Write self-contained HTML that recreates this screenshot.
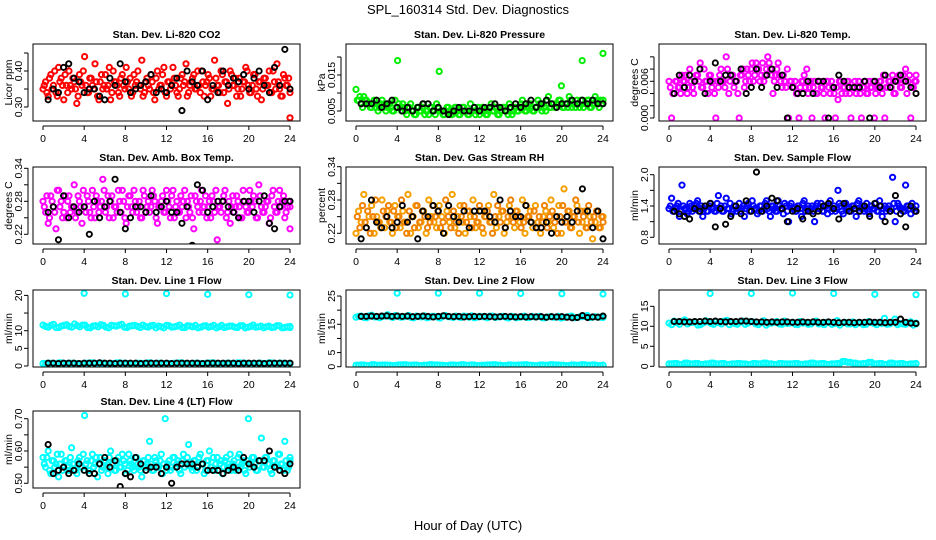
<!DOCTYPE html>
<html><head><meta charset="utf-8"><style>
body{margin:0;background:#fff}
svg{display:block;font-family:"Liberation Sans",sans-serif}
</style></head><body>
<svg id="c" width="936" height="540" viewBox="0 0 936 540">
<text x="468" y="14" font-size="13" text-anchor="middle">SPL_160314  Std. Dev. Diagnostics</text>
<text x="468" y="530" font-size="13" text-anchor="middle">Hour of Day (UTC)</text>
</svg>
<script>
const xTicks=[0,4,8,12,16,20,24];
const spikeHours=[4,8,12,16,20,24];
const co2Color=[.35,.37,.33,.39,.36,.34,.41,.38,.32,.36,.40,.35,.37,.31,.39,.36,.44,.34,.38,.36,.42,.33,.37,.35,.39,.36,.32,.40,.37,.34,.38,.36,.41,.35,.33,.39,.37,.36,.43,.34,.38,.35,.37,.32,.40,.36,.39,.34,.37,.35,.41,.36,.33,.38,.36,.42,.34,.37,.39,.35,.36,.40,.33,.37,.38,.35,.43,.36,.34,.39,.37,.31,.40,.36,.38,.35,.33,.37,.41,.36,.34,.39,.35,.37,.32,.38,.36,.40,.34,.37,.42,.35,.33,.38,.36,.27];
const co2ColorB=[.36,.34,.38,.35,.40,.33,.37,.36,.39,.34,.36,.38,.35,.33,.37,.40,.36,.34,.38,.35,.37,.32,.39,.36,.35,.41,.34,.37,.36,.33,.39,.35,.37,.38,.34,.36,.40,.35,.33,.37,.36,.39,.34,.38,.35,.36,.41,.33,.37,.36,.38,.34,.35,.39,.37,.33,.36,.38,.35,.40,.34,.37,.36,.39,.33,.35,.38,.36,.40,.34,.37,.35,.39,.36,.33,.38,.35,.37,.40,.34,.36,.39,.33,.37,.35,.38,.36,.34,.40,.35,.37,.33,.39,.36,.38,.34];
const co2Black=[.32,.35,.34,.41,.42,.38,.37,.34,.35,.35,.33,.32,.38,.36,.42,.37,.34,.35,.36,.37,.39,.34,.35,.34,.36,.38,.29,.40,.37,.36,.40,.32,.36,.34,.40,.36,.38,.37,.39,.35,.38,.40,.36,.34,.41,.36,.46,.35];
const presColor=[.011,.008,.007,.009,.008,.007,.006,.008,.007,.006,.008,.007,.006,.007,.005,.008,.019,.006,.007,.005,.006,.007,.005,.004,.006,.005,.007,.005,.004,.006,.005,.007,.016,.005,.004,.006,.005,.004,.006,.005,.004,.006,.005,.004,.007,.005,.004,.006,.005,.006,.004,.005,.007,.005,.006,.004,.005,.006,.005,.007,.004,.006,.005,.006,.008,.005,.006,.007,.005,.006,.008,.006,.007,.005,.009,.006,.007,.006,.008,.012,.006,.007,.009,.006,.007,.008,.006,.019,.007,.008,.006,.007,.009,.007,.008,.021];
const presColorB=[.008,.009,.006,.008,.007,.006,.007,.006,.005,.007,.006,.005,.007,.006,.005,.006,.007,.005,.006,.004,.006,.005,.004,.006,.005,.006,.004,.005,.006,.005,.004,.006,.005,.004,.005,.006,.004,.005,.006,.004,.005,.006,.005,.004,.005,.006,.005,.004,.006,.005,.004,.006,.005,.006,.004,.005,.006,.005,.004,.006,.005,.006,.005,.007,.006,.005,.007,.006,.005,.006,.007,.005,.006,.008,.006,.007,.006,.007,.008,.006,.007,.006,.008,.007,.006,.007,.008,.006,.007,.008,.006,.007,.008,.006,.007,.008];
const presBlack=[.007,.007,.007,.008,.006,.007,.008,.006,.005,.006,.005,.006,.007,.007,.005,.006,.005,.004,.005,.006,.005,.005,.006,.005,.006,.006,.007,.006,.005,.006,.007,.006,.007,.008,.006,.007,.008,.007,.006,.007,.007,.008,.007,.008,.007,.008,.007,.007];
const tempColor=[.006,0,.004,.006,.005,.007,.006,.004,.008,.005,.006,.007,.009,.005,.006,.004,.007,.006,0,.005,.008,.006,.010,.004,.007,.005,.006,0,.007,.005,.008,.006,.009,.007,.008,.006,.009,.007,.010,.008,.004,.007,.009,.006,.007,.005,0,.006,.005,.004,0,.006,.007,.008,.005,0,.006,.004,.006,.005,0,.006,.004,.005,0,.003,.006,.005,.004,.006,0,.005,.004,.006,0,.005,.004,.006,.005,0,.005,.006,.004,0,.005,.006,.007,.004,.006,.005,.007,.008,.006,0,.005,.006];
const tempColorB=[.005,.004,.006,.005,.004,.006,.007,.005,.006,.004,.007,.006,.005,.008,.006,.007,.005,.004,.006,.007,.006,.005,.008,.006,.007,.006,.004,.007,.008,.006,.007,.008,.006,.009,.008,.007,.006,.008,.009,.007,.006,.008,.007,.005,.006,.008,.006,.005,.006,.004,.005,.006,.005,.004,.006,.005,.004,.006,.005,.004,.006,.005,.006,.004,.005,.006,.004,.005,.006,.004,.005,.006,.005,.004,.005,.006,.004,.005,.006,.004,.005,.006,.007,.005,.006,.005,.004,.006,.007,.005,.006,.004,.007,.005,.006,.007];
const tempBlack=[.004,.007,.005,.007,.006,.008,.004,.006,.009,.006,.007,.007,.006,.008,.004,.005,.008,.005,.007,.008,.005,.007,0,.005,.004,.004,.006,.004,.006,.006,0,.005,.007,.006,.005,.005,.005,.006,0,.006,.005,.007,.005,.006,.007,.006,.005,.004];
const ambColor=[.28,.26,.24,.29,.27,.23,.30,.28,.26,.25,.29,.27,.31,.26,.28,.24,.27,.29,.26,.30,.25,.28,.27,.32,.26,.29,.28,.25,.27,.30,.26,.28,.24,.29,.27,.30,.26,.28,.25,.29,.27,.26,.30,.28,.24,.27,.29,.26,.28,.25,.30,.27,.26,.29,.28,.25,.27,.29,.23,.28,.26,.30,.27,.25,.28,.29,.26,.21,.27,.28,.30,.26,.24,.29,.27,.28,.25,.30,.27,.26,.28,.29,.25,.31,.27,.26,.28,.24,.29,.27,.26,.30,.28,.25,.27,.23];
const ambColorB=[.27,.29,.25,.28,.26,.30,.27,.25,.29,.28,.26,.27,.25,.29,.27,.30,.26,.28,.25,.27,.29,.26,.28,.30,.27,.25,.29,.27,.26,.28,.30,.25,.27,.29,.26,.28,.27,.25,.30,.26,.28,.27,.29,.25,.27,.28,.26,.30,.27,.29,.25,.28,.26,.27,.30,.28,.26,.25,.29,.27,.28,.26,.29,.27,.25,.28,.30,.27,.26,.29,.25,.28,.27,.26,.29,.27,.25,.28,.26,.30,.27,.28,.25,.29,.26,.27,.28,.25,.30,.26,.28,.27,.29,.26,.28,.27];
const ambBlack=[.26,.27,.21,.29,.25,.27,.26,.27,.22,.28,.25,.27,.28,.32,.26,.23,.25,.27,.27,.26,.29,.26,.27,.28,.26,.26,.24,.27,.20,.31,.30,.26,.27,.28,.28,.27,.26,.25,.28,.28,.26,.28,.29,.24,.23,.27,.28,.28];
const rhColor=[.22,.26,.24,.29,.23,.25,.27,.22,.25,.24,.28,.23,.26,.24,.22,.27,.25,.23,.26,.24,.29,.22,.25,.27,.23,.24,.26,.22,.28,.25,.24,.23,.27,.25,.22,.26,.24,.29,.23,.25,.27,.24,.22,.26,.25,.28,.23,.24,.26,.22,.25,.27,.24,.29,.23,.25,.26,.22,.24,.27,.25,.23,.26,.24,.28,.22,.25,.26,.23,.27,.24,.22,.25,.26,.24,.28,.23,.25,.27,.22,.30,.24,.26,.23,.25,.27,.22,.24,.26,.23,.25,.21,.24,.26,.23,.25];
const rhColorB=[.25,.23,.27,.24,.26,.22,.25,.28,.24,.23,.26,.25,.27,.24,.26,.23,.25,.28,.24,.22,.26,.25,.23,.27,.24,.26,.25,.23,.24,.27,.25,.26,.23,.24,.28,.25,.23,.26,.24,.22,.25,.27,.24,.26,.23,.25,.24,.27,.23,.25,.26,.24,.22,.25,.27,.24,.26,.23,.25,.28,.24,.26,.25,.23,.24,.27,.25,.24,.26,.23,.25,.24,.27,.23,.25,.26,.24,.22,.25,.27,.24,.26,.23,.25,.28,.24,.26,.25,.23,.27,.24,.25,.26,.23,.25,.24];
const rhBlack=[.21,.23,.28,.24,.23,.25,.23,.24,.27,.24,.25,.21,.26,.25,.27,.26,.22,.27,.25,.24,.26,.23,.26,.26,.26,.25,.24,.28,.23,.26,.25,.25,.27,.24,.23,.23,.24,.22,.25,.24,.25,.24,.26,.30,.26,.23,.26,.21];
const sfColor=[1.35,1.55,1.3,1.4,1.2,1.8,1.35,1.25,1.45,1.3,1.4,1.5,1.35,1.2,1.4,1.3,1.45,1.35,1.3,1.6,1.4,1.3,1.55,1.35,1.25,1.4,1.3,1.45,1.35,1.2,1.4,1.3,1.5,1.35,1.25,1.4,1.3,1.45,1.35,1.2,1.4,1.3,1.5,1.35,1.25,1.4,1.1,1.45,1.35,1.3,1.4,1.2,1.5,1.35,1.3,1.4,1.1,1.45,1.35,1.3,1.4,1.25,1.5,1.35,1.3,1.7,1.4,1.25,1.45,1.35,1.3,1.4,1.2,1.5,1.35,1.3,1.45,1.25,1.4,1.35,1.3,1.5,1.2,1.4,1.35,1.3,1.95,1.1,1.45,1.35,1.3,1.8,1.4,1.25,1.35,1.3];
const sfColorB=[1.4,1.3,1.35,1.45,1.3,1.4,1.35,1.3,1.4,1.35,1.45,1.3,1.4,1.35,1.3,1.4,1.35,1.3,1.45,1.35,1.3,1.4,1.35,1.45,1.3,1.4,1.35,1.3,1.4,1.35,1.45,1.3,1.4,1.35,1.3,1.4,1.35,1.5,1.3,1.4,1.35,1.3,1.4,1.35,1.45,1.3,1.4,1.35,1.3,1.4,1.35,1.45,1.3,1.4,1.35,1.3,1.4,1.35,1.45,1.3,1.4,1.35,1.3,1.4,1.35,1.45,1.3,1.4,1.35,1.3,1.4,1.35,1.45,1.3,1.4,1.35,1.3,1.4,1.35,1.45,1.3,1.4,1.35,1.3,1.4,1.35,1.45,1.3,1.4,1.35,1.3,1.4,1.35,1.45,1.3,1.4];
const sfBlack=[1.3,1.25,1.2,1.15,1.35,1.3,1.4,1.45,1.0,1.35,1.05,1.2,1.4,1.25,1.5,1.3,2.05,1.3,1.4,1.55,1.5,1.35,1.1,1.3,1.35,1.15,1.3,1.25,1.3,1.4,1.45,1.35,1.15,1.45,1.3,1.35,1.3,1.4,1.2,1.45,1.4,1.1,1.3,1.6,1.25,1.0,1.4,1.3];
const l1High=[11.6,11.0,11.8,10.9,11.5,11.2,11.9,11.1,11.6,10.8,11.4,11.7,11.0,11.5,11.3,11.8,10.9,11.4,11.2,11.6,11.0,11.5,11.3,10.8,11.4,11.1,11.6,10.9,11.3,11.5,11.0,11.4,11.2,10.8,11.5,11.1,11.3,10.9,11.4,11.0,11.6,11.1,10.8,11.3,11.0,11.4,10.9,11.2];
const l1HighB=[11.2,11.5,10.9,11.3,11.7,11.0,11.4,11.6,10.9,11.3,11.1,11.5,10.8,11.4,11.6,11.0,11.3,11.5,10.9,11.2,11.4,10.8,11.1,11.5,11.0,11.3,10.9,11.4,11.1,10.8,11.3,11.0,11.5,11.1,10.9,11.3,11.0,11.4,10.8,11.2,11.0,11.3,11.1,10.9,11.4,10.8,11.1,10.9];
const l1Low=[0.7,0.8,0.6,0.9,0.7,0.8,0.7,0.6,0.8,0.9,0.7,0.8,0.6,0.7,0.9,0.8,0.7,0.6,0.8,0.7,0.9,0.7,0.8,0.6,0.7,0.8,0.9,0.7,0.6,0.8,0.7,0.8,0.9,0.7,0.6,0.8,0.7,0.9,0.8,0.7,0.6,0.8,0.7,0.9,0.7,0.8,0.6,0.7];
const l1Spike=[20.6,20.4,20.5,20.3,20.2,20.1];
const l1Black=[0.8,0.8,0.7,0.8,0.8,0.8,0.7,0.8,0.8,0.8,0.9,0.8,0.8,0.7,0.8,0.8,0.8,0.8,0.7,0.8,0.8,0.8,0.8,0.8,0.7,0.8,0.8,0.8,0.8,0.8,0.7,0.8,0.8,0.8,0.8,0.8,0.8,0.7,0.8,0.8,0.8,0.8,0.7,0.8,0.8,0.8,0.8,0.8];
const l2High=[17.5,17.9,17.3,18.2,17.6,17.8,18.4,17.4,17.9,17.6,18.1,17.3,17.7,18.0,17.5,17.8,17.2,18.1,17.6,17.9,17.4,17.8,18.0,17.5,17.7,17.3,17.9,17.6,17.8,17.2,17.7,17.5,17.9,17.4,17.6,17.8,17.3,17.7,17.5,17.2,17.6,17.9,17.4,17.7,18.1,17.5,17.6,17.8];
const l2HighB=[17.8,17.4,18.0,17.6,17.3,17.9,17.7,18.1,17.5,17.8,17.4,17.9,17.6,17.3,17.8,17.5,17.9,17.7,17.4,17.6,17.9,17.5,17.3,17.8,17.6,17.9,17.4,17.7,17.5,17.8,17.3,17.6,17.4,17.8,17.7,17.3,17.6,17.5,17.8,17.4,17.7,17.3,17.6,17.8,17.4,17.7,17.5,17.4];
const l2Low=[0.5,0.6,0.4,0.7,0.5,0.6,0.5,0.4,0.6,0.7,0.5,0.6,0.4,0.5,0.7,0.6,0.5,0.4,0.6,0.5,0.7,0.5,0.6,0.4,0.5,0.6,0.7,0.5,0.4,0.6,0.5,0.6,0.7,0.5,0.4,0.6,0.5,0.7,0.6,0.5,0.4,0.6,0.5,0.7,0.5,0.6,0.4,0.5];
const l2Spike=[26.0,26.0,26.0,25.9,25.8,25.7];
const l2Black=[17.8,17.8,17.9,17.8,17.9,18.0,17.8,17.9,17.8,17.9,17.7,17.8,17.9,17.8,17.6,17.8,18.0,17.8,17.7,17.8,17.6,17.7,17.8,17.7,17.8,17.7,17.6,17.7,17.8,17.7,17.6,17.7,17.6,17.7,17.6,17.7,17.5,17.7,17.6,17.7,17.5,17.3,17.4,18.1,17.4,17.6,17.5,17.9];
const l3High=[10.8,11.3,10.5,11.6,10.9,11.1,10.4,11.4,10.7,11.2,10.6,11.5,10.9,10.5,11.3,10.8,11.1,10.4,11.4,10.7,11.0,10.6,11.3,10.8,10.5,11.2,10.9,10.6,11.3,10.7,11.0,10.5,11.4,10.8,10.6,11.1,10.9,10.4,11.2,10.7,11.0,12.0,10.6,11.8,10.7,10.5,11.1,10.8];
const l3HighB=[10.4,10.9,11.2,10.6,11.0,10.3,10.8,11.1,10.5,10.9,11.3,10.4,10.7,11.0,10.5,11.2,10.6,10.9,10.3,10.8,11.2,10.5,10.7,11.0,10.4,10.8,10.5,11.1,10.6,10.4,10.9,10.7,10.3,11.0,10.6,10.4,10.8,10.5,10.9,10.4,10.7,10.5,11.0,10.4,10.6,10.9,10.3,10.6];
const l3Low=[0.6,0.7,0.5,0.8,0.6,0.7,0.5,0.6,0.8,0.6,0.7,0.5,0.6,0.7,0.6,0.5,0.7,0.6,0.8,0.6,0.5,0.7,0.6,0.6,0.7,0.5,0.6,0.8,0.6,0.7,0.5,0.6,0.7,1.2,1.0,0.8,0.6,0.7,1.0,0.6,0.7,0.5,0.8,0.6,0.7,0.5,0.6,0.7];
const l3Spike=[18.2,18.2,18.3,18.2,18.0,17.9];
const l3Black=[11.2,11.2,11.1,11.1,11.2,11.2,11.3,11.2,11.3,11.2,11.1,11.2,11.2,11.3,11.3,11.2,11.1,11.1,11.0,11.1,11.0,11.1,11.1,11.0,11.0,11.1,11.0,11.1,11.0,11.0,11.1,11.0,10.9,11.0,11.0,10.9,11.0,11.0,11.1,11.0,11.0,10.9,11.0,11.0,11.8,11.0,10.8,10.7];
const l4Color=[.58,.55,.60,.53,.57,.56,.52,.59,.55,.57,.54,.61,.56,.53,.58,.55,.71,.57,.54,.59,.56,.52,.58,.55,.57,.53,.60,.56,.54,.58,.55,.57,.53,.59,.56,.54,.58,.55,.52,.57,.56,.63,.54,.58,.55,.57,.53,.70,.56,.54,.58,.55,.57,.53,.59,.56,.62,.55,.57,.54,.58,.56,.53,.57,.60,.55,.54,.58,.56,.53,.57,.55,.59,.56,.54,.58,.55,.57,.53,.70,.56,.58,.54,.57,.64,.55,.58,.56,.53,.57,.55,.59,.56,.63,.54,.57];
const l4ColorB=[.56,.58,.54,.57,.55,.59,.56,.54,.57,.55,.58,.56,.54,.57,.55,.59,.56,.54,.57,.55,.58,.56,.54,.57,.55,.58,.56,.54,.57,.55,.59,.56,.54,.57,.55,.58,.56,.54,.57,.55,.58,.56,.54,.57,.55,.59,.56,.54,.57,.55,.58,.56,.54,.57,.55,.58,.56,.54,.57,.55,.59,.56,.54,.57,.55,.58,.56,.54,.57,.55,.58,.56,.54,.57,.55,.59,.56,.54,.57,.55,.58,.56,.54,.57,.55,.58,.56,.54,.57,.55,.59,.56,.54,.57,.55,.58];
const l4Black=[.62,.53,.54,.55,.53,.54,.56,.54,.53,.53,.56,.58,.55,.57,.49,.53,.52,.58,.56,.54,.55,.55,.53,.55,.50,.55,.56,.56,.56,.55,.56,.54,.54,.54,.53,.54,.55,.54,.58,.56,.55,.57,.57,.60,.55,.54,.53,.56];

const svg=document.getElementById('c');
const NS='http://www.w3.org/2000/svg';
function el(tag,attrs,parent){const e=document.createElementNS(NS,tag);for(const k in attrs)e.setAttribute(k,attrs[k]);(parent||svg).appendChild(e);return e;}
const colLeft=[33,346,659],rowTop=[44,167,290,411],W=267,H=77;
const K='#000';
const panels=[
 {title:'Stan. Dev. Li-820 CO2',ylab:'Licor ppm',c:0,r:0,cal:[.30,107,.40,71],ticks:[.30,.35,.40,.45],labels:['0.30','','0.40',''],series:[[co2Color,'#ff0000',0],[co2ColorB,'#ff0000',1],[co2Black,K,0]]},
 {title:'Stan. Dev. Li-820 Pressure',ylab:'kPa',c:1,r:0,cal:[.005,111,.015,75],ticks:[.005,.010,.015,.020],labels:['0.005','','0.015',''],series:[[presColor,'#00ee00',0],[presColorB,'#00ee00',1],[presBlack,K,0]]},
 {title:'Stan. Dev. Li-820 Temp.',ylab:'degrees C',c:2,r:0,cal:[0,118,.006,81.3],ticks:[0,.002,.004,.006,.008,.010],labels:['0.000','','','0.006','',''],series:[[tempColor,'#ff00ff',0],[tempColorB,'#ff00ff',1],[tempBlack,K,0]]},
 {title:'Stan. Dev. Amb. Box Temp.',ylab:'degrees C',c:0,r:1,cal:[.22,234.3,.28,201.3],ticks:[.22,.25,.28,.31,.34],labels:['0.22','','0.28','','0.34'],series:[[ambColor,'#ff00ff',0],[ambColorB,'#ff00ff',1],[ambBlack,K,0]]},
 {title:'Stan. Dev. Gas Stream RH',ylab:'percent',c:1,r:1,cal:[.22,233.3,.28,200],ticks:[.22,.25,.28,.31,.34],labels:['0.22','','0.28','','0.34'],series:[[rhColor,'#f5a000',0],[rhColorB,'#f08000',1],[rhBlack,K,0]]},
 {title:'Stan. Dev. Sample Flow',ylab:'ml/min',c:2,r:1,cal:[.8,237.3,1.4,206],ticks:[.8,1.1,1.4,1.7,2.0],labels:['0.8','','1.4','','2.0'],series:[[sfColor,'#0000ff',0],[sfColorB,'#0000ff',1],[sfBlack,K,0]]},
 {title:'Stan. Dev. Line 1 Flow',ylab:'ml/min',c:0,r:2,cal:[0,366,10,330.7],ticks:[0,5,10,15,20],labels:['0','5','10','','20'],series:[[l1High,'#00ffff',0],[l1HighB,'#00ffff',1],[l1Low,'#00ffff',0],[l1Low,'#00ffff',1],[l1Black,K,0]],spike:l1Spike},
 {title:'Stan. Dev. Line 2 Flow',ylab:'ml/min',c:1,r:2,cal:[0,366.7,15,324.3],ticks:[0,5,10,15,20,25],labels:['0','5','','15','','25'],series:[[l2High,'#00ffff',0],[l2HighB,'#00ffff',1],[l2Low,'#00ffff',0],[l2Low,'#00ffff',1],[l2Black,K,0]],spike:l2Spike},
 {title:'Stan. Dev. Line 3 Flow',ylab:'ml/min',c:2,r:2,cal:[0,366.3,10,326.3],ticks:[0,5,10,15],labels:['0','5','10','15'],series:[[l3High,'#00ffff',0],[l3HighB,'#00ffff',1],[l3Low,'#00ffff',0],[l3Low,'#00ffff',1],[l3Black,K,0]],spike:l3Spike},
 {title:'Stan. Dev. Line 4 (LT) Flow',ylab:'ml/min',c:0,r:3,cal:[.5,483.3,.6,451],ticks:[.5,.55,.6,.65,.7],labels:['0.50','','0.60','','0.70'],series:[[l4Color,'#00ffff',0],[l4ColorB,'#00ffff',1],[l4Black,K,0]]}
];

panels.forEach((p,pi)=>{
 const L=colLeft[p.c],T=rowTop[p.r];
 const g=el('g',{});
 
 
 const xs=t=>L+10+t/24*247;
 const ys=v=>p.cal[1]+(v-p.cal[0])*(p.cal[3]-p.cal[1])/(p.cal[2]-p.cal[0]);
 const cp='cp'+pi;
 const cl=el('clipPath',{id:cp},g);el('rect',{x:L,y:T,width:W,height:H},cl);
 const title=el('text',{x:L+W/2,y:T-6,'font-size':10.5,'font-weight':'bold','text-anchor':'middle'},g);
 title.textContent=p.title;
 
 
 const yl=el('text',{transform:`translate(${L-21},${T+H/2}) rotate(-90)`,'font-size':10.5,'text-anchor':'middle'},g);
 yl.textContent=p.ylab;
 
 
 const pts=el('g',{'clip-path':`url(#${cp})`,fill:'none'},g);
 
 
 p.series.forEach(([arr,col,off])=>{
  const n=arr.length,blk=col===K;
  arr.forEach((v,i)=>{
   const t=blk?0.5+i*23.5/(n-1):Math.min(24,(i+off*0.5)*24/(n-1));
   const c=el('circle',{cx:xs(t),cy:ys(v),r:blk?2.6:2.6,stroke:col,'stroke-width':blk?1.9:2},pts);
   
   
  });
 });
 if(p.spike)p.spike.forEach((v,i)=>{
  const c=el('circle',{cx:xs(spikeHours[i]),cy:ys(v),r:2.6,stroke:'#00ffff','stroke-width':2},pts);
  
  
 });
 el('rect',{x:L,y:T,width:W,height:H,fill:'none',stroke:'#000','stroke-width':1},g);
 const B=T+H+5;
 el('line',{x1:xs(0),x2:xs(24),y1:B,y2:B,stroke:'#000'},g);
 xTicks.forEach(t=>{
  el('line',{x1:xs(t),x2:xs(t),y1:B,y2:B+4,stroke:'#000'},g);
  const tx=el('text',{x:xs(t),y:B+16,'font-size':10.5,'text-anchor':'middle'},g);
  tx.textContent=t;
  
  
 });
 const A=L-5;
 const yt=p.ticks.map(ys);
 el('line',{x1:A,x2:A,y1:Math.min(...yt),y2:Math.max(...yt),stroke:'#000'},g);
 p.ticks.forEach((v,i)=>{
  el('line',{x1:A-4,x2:A,y1:ys(v),y2:ys(v),stroke:'#000'},g);
  if(p.labels[i]){
   const tx=el('text',{transform:`translate(${A-6},${ys(v)}) rotate(-90)`,'font-size':10.5,'text-anchor':'middle'},g);
   tx.textContent=p.labels[i];
   
   
  }
 });
});
</script>
</body></html>
